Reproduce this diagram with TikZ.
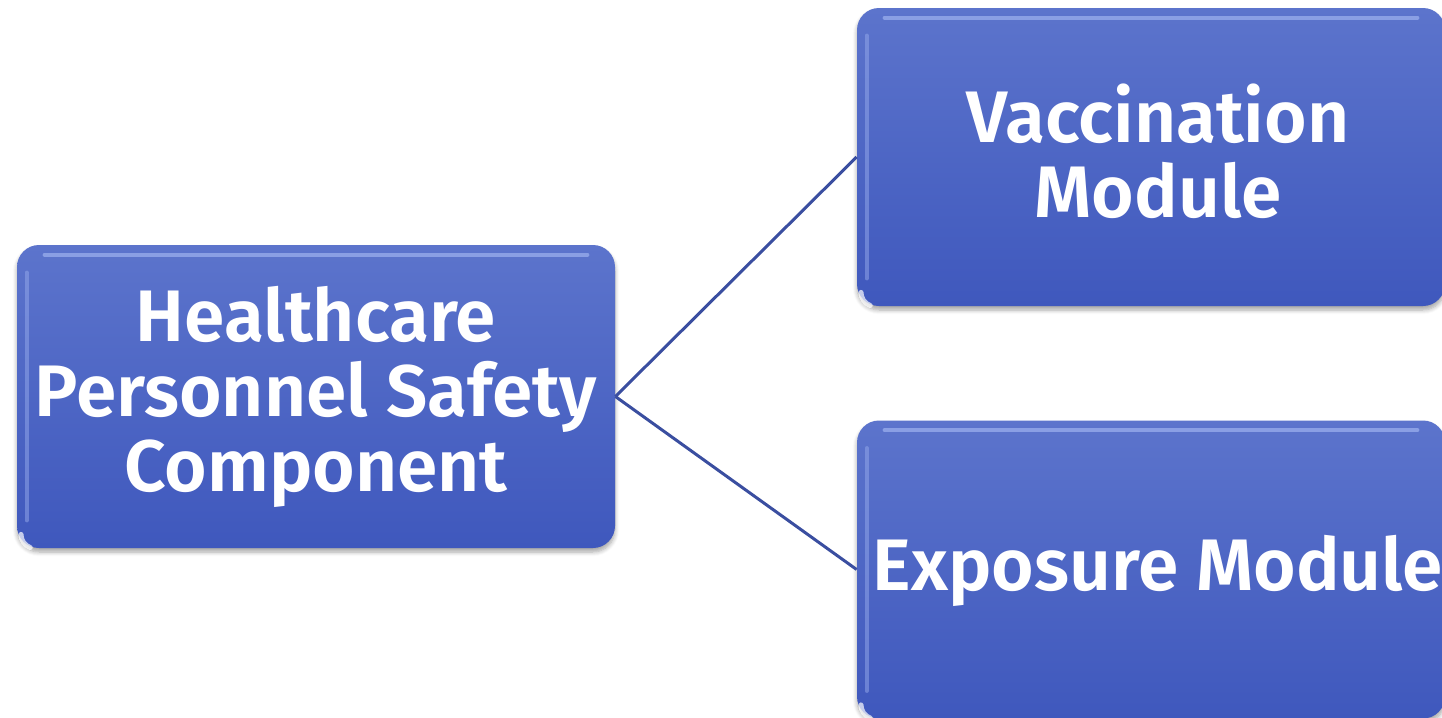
\documentclass[tikz,border=0pt]{standalone}
\usepackage{fontspec}
\setmainfont{Fira Sans}[BoldFont={Fira Sans SemiBold}]
\usetikzlibrary{shadows.blur}
\definecolor{boxtop}{RGB}{92,116,204}
\definecolor{boxbot}{RGB}{63,88,189}
\definecolor{gloss}{RGB}{150,170,235}
\definecolor{connc}{RGB}{58,78,160}
\tikzset{
  box/.style={rounded corners=11pt, top color=boxtop, bottom color=boxbot,
    draw=none, inner sep=0pt,
    blur shadow={shadow xshift=0pt, shadow yshift=-2pt, shadow blur steps=6, shadow opacity=35}},
  lbl/.style={text=white, font=\bfseries\fontsize{36.5}{37.5}\selectfont, align=center, inner sep=0pt},
  conn/.style={draw=connc, line width=1.5pt},
}
\begin{document}
\begin{tikzpicture}[x=0.5pt,y=-0.5pt]
\useasboundingbox (0,0) rectangle (1442,718);
% boxes
\node[box, minimum width=299pt, minimum height=151.5pt] (hps) at (316,396.5) {};
\node[box, minimum width=294pt, minimum height=149pt] (vac) at (1151,157) {};
\node[box, minimum width=294pt, minimum height=149pt] (exp) at (1151,569.5) {};
% gloss highlights
\foreach \b in {hps,vac,exp}{
  \draw[gloss, line width=2pt, line cap=round, opacity=0.8]
    ([xshift=14pt,yshift=-5pt]\b.north west) -- ([xshift=-14pt,yshift=-5pt]\b.north east);
  \draw[gloss, line width=2pt, line cap=round, opacity=0.5]
    ([xshift=5pt,yshift=-14pt]\b.north west) -- ([xshift=5pt,yshift=14pt]\b.south west);
  \draw[white, line width=2.5pt, line cap=round, opacity=0.7]
    ([xshift=2.2pt,yshift=7pt]\b.south west) arc[start angle=180, end angle=250, radius=7pt];
}
% texts
\node[lbl] (hpst) at (316,397) {Healthcare\\Personnel Safety\\Component};
\node[lbl] (vact) at (1158,151) {Vaccination\\Module};
\node[lbl] (expt) at (1158,571) {Exposure Module};
% connectors
\draw[conn] (hps.east) -- (vac.west);
\draw[conn] (hps.east) -- (exp.west);
\end{tikzpicture}
\end{document}
